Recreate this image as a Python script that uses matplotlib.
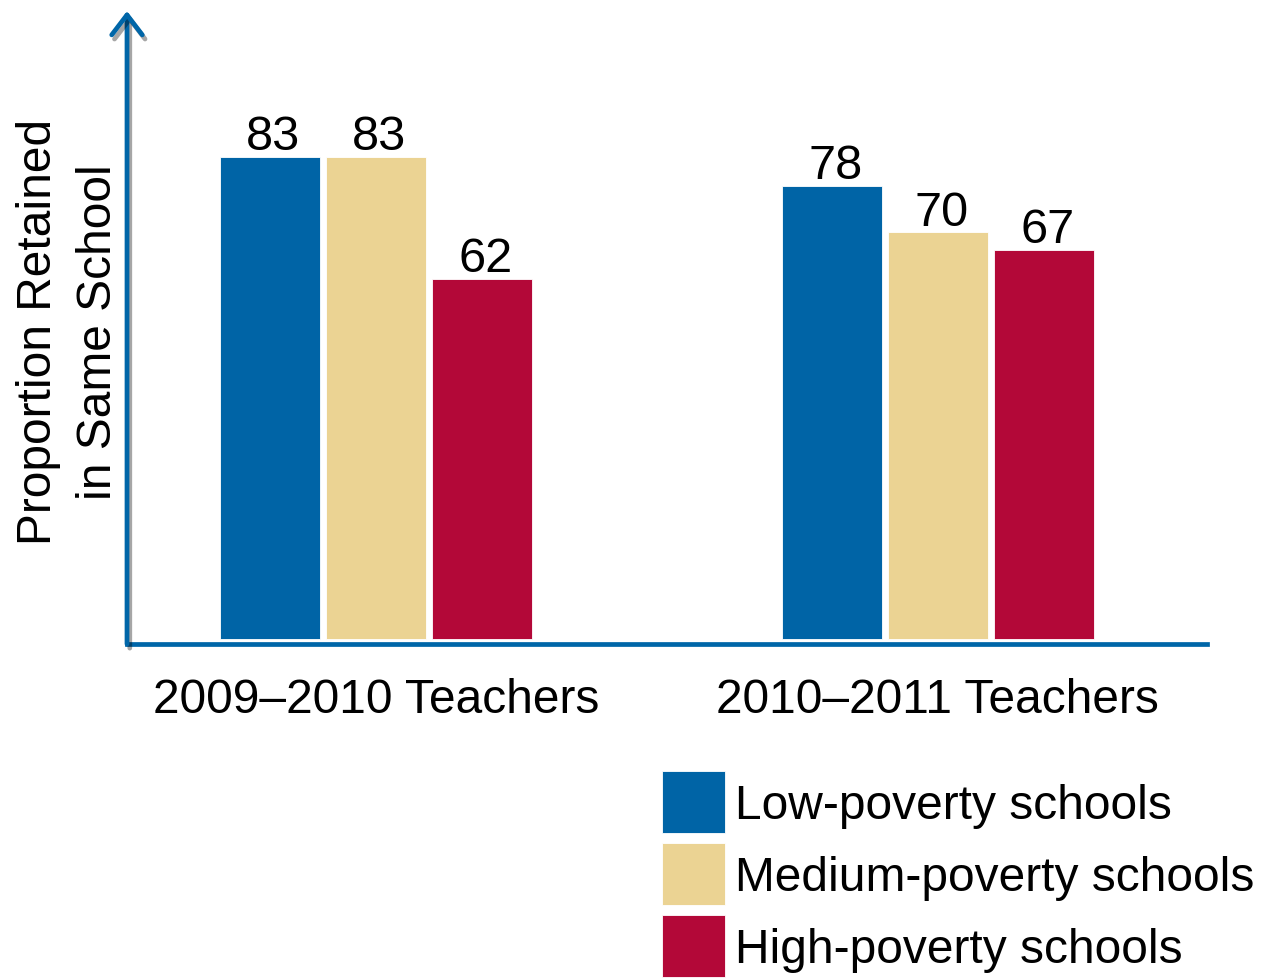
import matplotlib
matplotlib.use("Agg")
import matplotlib.pyplot as plt
import matplotlib.patheffects as pe
import numpy as np

plt.rcParams['font.family'] = ['Liberation Sans', 'DejaVu Sans']

# data
groups = ['2009\u20132010 Teachers', '2010\u20132011 Teachers']
series = ['Low-poverty schools', 'Medium-poverty schools', 'High-poverty schools']
low = [83, 78]
medium = [83, 70]
high = [62, 67]
colors = ['#0064A6', '#EBD393', '#B30838']
axis_color = '#0066A8'

fig = plt.figure(figsize=(12.61, 9.79), dpi=100)
ax = fig.add_axes([127 / 1261, 1 - 645 / 979, (1207 - 127) / 1261, (645 - 12) / 979])

x = np.arange(len(groups))
step = 106 / 562
width = 100 / 562
for i, (vals, col, name) in enumerate(zip([low, medium, high], colors, series)):
    pos = x + (i - 1) * step
    ax.bar(pos, vals, width, color=col, label=name, zorder=2,
           edgecolor='white', linewidth=0.6)
    for xp, v in zip(pos, vals):
        ax.text(xp + 0.006, v - 0.4, str(v), ha='center', va='bottom', fontsize=35, color='black')

ax.set_xlim(-0.443, 1.479)
ax.set_ylim(-0.86, 108.1)

ax.set_xticks(x)
ax.set_xticklabels(groups, fontsize=34.5)
ax.tick_params(axis='x', length=0, pad=24)
ax.set_yticks([])

for s in ['top', 'right', 'left']:
    ax.spines[s].set_visible(False)
ax.spines['bottom'].set_color(axis_color)
ax.spines['bottom'].set_linewidth(3.4)
ax.spines['bottom'].set_path_effects([pe.SimplePatchShadow(offset=(2, -3), alpha=0.35),
                                      pe.Normal()])

# y axis drawn as an arrow
ax.annotate('', xy=(0, 1), xytext=(0, 0), xycoords='axes fraction',
            arrowprops=dict(arrowstyle='->,head_length=0.72,head_width=0.55',
                            color=axis_color, lw=3.4, mutation_scale=20,
                            shrinkA=0, shrinkB=0, capstyle='round', joinstyle='round',
                            path_effects=[pe.SimpleLineShadow(offset=(2, -3), alpha=0.35),
                                          pe.Normal()]),
            annotation_clip=False)

fig.text(39 / 1261, 1 - 332 / 979, 'Proportion Retained', rotation=90,
         ha='center', va='center', fontsize=34.5)
fig.text(99 / 1261, 1 - 332 / 979, 'in Same School', rotation=90,
         ha='center', va='center', fontsize=34.5)

fig.legend(loc='upper left', bbox_to_anchor=(662 / 1261, 1 - 772 / 979),
           frameon=False, fontsize=34.5, handlelength=1.32, handleheight=1.61,
           labelspacing=0.21, handletextpad=0.21, borderpad=0, borderaxespad=0)

fig.savefig('out.png', dpi=100)
